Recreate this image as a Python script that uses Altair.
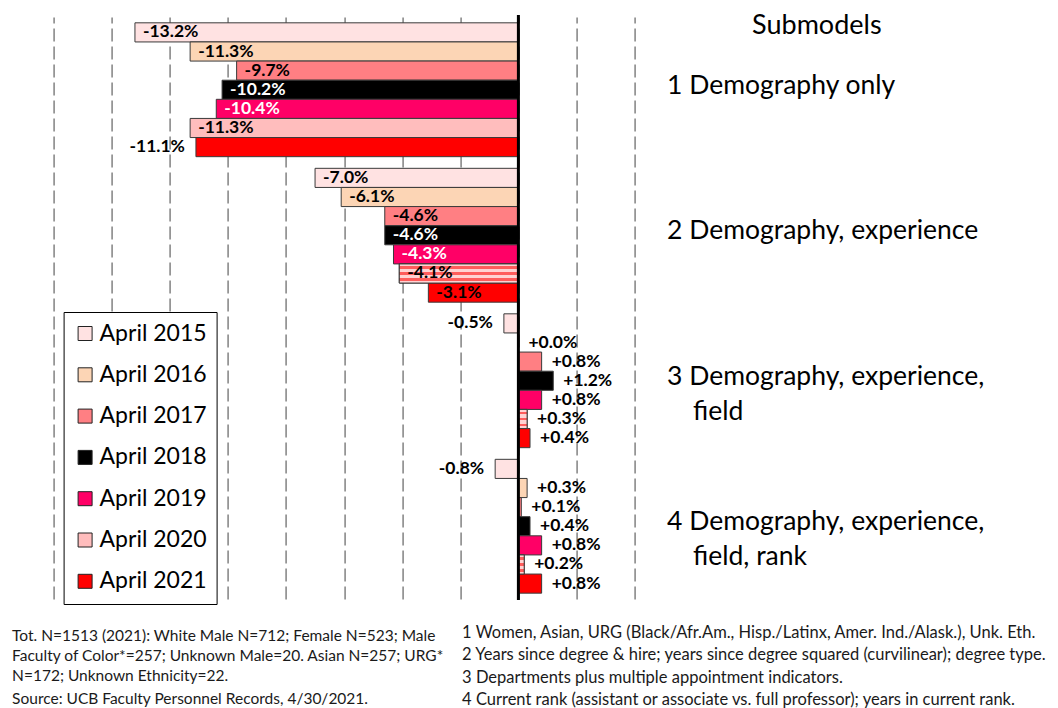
import altair as alt
import pandas as pd

# ---------------- data ----------------
groups = ["1", "2", "3", "4"]
years = ["April 2015", "April 2016", "April 2017", "April 2018",
         "April 2019", "April 2020", "April 2021"]
g1_values = [-13.2, -11.3, -9.7, -10.2, -10.4, -11.3, -11.1]
g2_values = [-7.0, -6.1, -4.6, -4.6, -4.3, -4.1, -3.1]
g3_values = [-0.5, 0.0, 0.8, 1.2, 0.8, 0.3, 0.4]
g4_values = [-0.8, 0.3, 0.1, 0.4, 0.8, 0.2, 0.8]
grid_ticks = [-16, -14, -12, -10, -8, -6, -4, -2, 0, 2, 4]

submodel_title = "Submodels"
submodel_line1 = ["1 Demography only", "2 Demography, experience",
                  "3 Demography, experience,", "4 Demography, experience,"]
submodel_line2 = ["", "", "field", "field, rank"]

note_left = ["Tot. N=1513 (2021): White Male N=712; Female N=523; Male",
             "Faculty of Color*=257; Unknown Male=20. Asian N=257; URG*",
             "N=172; Unknown Ethnicity=22."]
note_source = "Source: UCB Faculty Personnel Records, 4/30/2021."
note_right = ["1 Women, Asian, URG (Black/Afr.Am., Hisp./Latinx, Amer. Ind./Alask.), Unk. Eth.",
              "2 Years since degree & hire;  years since degree squared (curvilinear); degree type.",
              "3 Departments plus multiple appointment indicators.",
              "4 Current rank (assistant or associate vs. full professor); years in current rank."]

year_colors = ["#ffe2e2", "#fcd5b5", "#ff7f83", "#000000",
               "#ff0066", "#ffbdbd", "#ff0000"]

all_values = [g1_values, g2_values, g3_values, g4_values]
rows = []
for g, vals in zip(groups, all_values):
    for yr, v in zip(years, vals):
        rows.append({"group": g, "year": yr, "value": v, "label": f"{v:+.1f}%"})
df = pd.DataFrame(rows)

ann = pd.DataFrame({"group": groups, "line1": submodel_line1, "line2": submodel_line2})

FONT = "Lato"
W, H = 581, 582

stripes = alt.LinearGradient(
    gradient="linear", x1=0, x2=0, y1=0, y2=1,
    stops=[
        alt.GradientStop(color="#ffd2d2", offset=0),
        alt.GradientStop(color="#ffd2d2", offset=0.12),
        alt.GradientStop(color="#ff5c5c", offset=0.12),
        alt.GradientStop(color="#ff5c5c", offset=0.24),
        alt.GradientStop(color="#ffd2d2", offset=0.24),
        alt.GradientStop(color="#ffd2d2", offset=0.44),
        alt.GradientStop(color="#ff5c5c", offset=0.44),
        alt.GradientStop(color="#ff5c5c", offset=0.56),
        alt.GradientStop(color="#ffd2d2", offset=0.56),
        alt.GradientStop(color="#ffd2d2", offset=0.76),
        alt.GradientStop(color="#ff5c5c", offset=0.76),
        alt.GradientStop(color="#ff5c5c", offset=0.88),
        alt.GradientStop(color="#ffd2d2", offset=0.88),
        alt.GradientStop(color="#ffd2d2", offset=1),
    ],
)

y_enc = alt.Y("group:N", axis=None,
              scale=alt.Scale(domain=groups, paddingInner=0.08, paddingOuter=0.04))
yo_enc = alt.YOffset("year:N", sort=years,
                     scale=alt.Scale(domain=years, paddingInner=0, paddingOuter=0))
x_enc = alt.X("value:Q",
              scale=alt.Scale(domain=[-16, 4], nice=False, zero=False),
              axis=alt.Axis(values=grid_ticks, grid=True, gridDash=[13, 5],
                            gridColor="#8a8a8a", gridWidth=1.6, labels=False,
                            ticks=False, domain=False, title=None))

base = alt.Chart(df)

bars = base.mark_bar(stroke="#3a3a3a", strokeWidth=1).encode(
    x=x_enc, y=y_enc, yOffset=yo_enc,
    color=alt.Color("year:N", sort=years,
                    scale=alt.Scale(domain=years, range=year_colors),
                    legend=alt.Legend(orient="none", legendX=10, legendY=295,
                                      title=None, direction="vertical",
                                      labelFont=FONT, labelFontSize=23,
                                      labelColor="#000000", labelOffset=3,
                                      symbolType="square", symbolSize=196,
                                      symbolStrokeColor="#222222",
                                      symbolStrokeWidth=1, rowPadding=17.3,
                                      padding=10, strokeColor="#000000",
                                      fillColor="#ffffff", labelLimit=200)),
)

stripe_bars = base.transform_filter(
    "datum.year == 'April 2020' && datum.group != '1'"
).mark_bar(fill=stripes, stroke="#3a3a3a", strokeWidth=1).encode(
    x=x_enc, y=y_enc, yOffset=yo_enc,
)

zero_line = alt.Chart(pd.DataFrame({"v": [0]})).mark_rule(
    color="#000000", strokeWidth=3
).encode(x=alt.X("v:Q"), y=alt.value(-2), y2=alt.value(H + 1))

is_outside_left = "(datum.value < 0 && datum.value > -1) || (datum.group == '1' && datum.year == 'April 2021')"
is_inside = "datum.value <= -1 && !(datum.group == '1' && datum.year == 'April 2021')"

text_common = dict(font=FONT, fontSize=17.5, fontWeight="bold", baseline="middle")

labels_inside = base.transform_filter(is_inside).mark_text(
    align="left", dx=8, **text_common
).encode(
    x=alt.X("value:Q"), y=y_enc, yOffset=yo_enc, text="label:N",
    color=alt.condition(
        "(datum.year == 'April 2018' || datum.year == 'April 2019')",
        alt.value("#ffffff"), alt.value("#000000")),
)

labels_left = base.transform_filter(is_outside_left).mark_text(
    align="right", dx=-11, color="#000000", **text_common
).encode(x=alt.X("value:Q"), y=y_enc, yOffset=yo_enc, text="label:N")

labels_right = base.transform_filter("datum.value >= 0").mark_text(
    align="left", dx=10, color="#000000", **text_common
).encode(x=alt.X("value:Q"), y=y_enc, yOffset=yo_enc, text="label:N")

ANN_SIZE = 26.5

ann1 = alt.Chart(ann).mark_text(
    align="left", baseline="middle", font=FONT, fontSize=ANN_SIZE, color="#000000", dy=-4
).encode(x=alt.value(613.5), y=alt.Y("group:N"), text="line1:N")

ann2 = alt.Chart(ann).mark_text(
    align="left", baseline="middle", font=FONT, fontSize=ANN_SIZE, color="#000000", dy=31
).encode(x=alt.value(639.5), y=alt.Y("group:N"), text="line2:N")

title_txt = alt.Chart(alt.Data(values=[{}])).mark_text(
    text=submodel_title, align="left", baseline="middle", font=FONT,
    fontSize=27, color="#000000"
).encode(x=alt.value(698.5), y=alt.value(9))

foot_left = alt.Chart(alt.Data(values=[{}])).mark_text(
    text=note_left, align="left", baseline="middle", font=FONT, fontSize=15.5,
    color="#1a1a1a", lineHeight=20
).encode(x=alt.value(-41.5), y=alt.value(619))

foot_source = alt.Chart(alt.Data(values=[{}])).mark_text(
    text=note_source, align="left", baseline="middle", font=FONT, fontSize=15.5,
    color="#1a1a1a"
).encode(x=alt.value(-41.5), y=alt.value(682))

foot_right = alt.Chart(alt.Data(values=[{}])).mark_text(
    text=note_right, align="left", baseline="middle", font=FONT, fontSize=16.5,
    color="#1a1a1a", lineHeight=22.4
).encode(x=alt.value(408.5), y=alt.value(616))

chart = alt.layer(
    bars, stripe_bars, zero_line, labels_inside, labels_left, labels_right,
    ann1, ann2, title_txt, foot_left, foot_source, foot_right
).properties(
    width=W, height=H,
    autosize=alt.AutoSizeParams(type="none"),
    padding={"left": 45.6, "top": 9, "right": 414.4, "bottom": 109},
    background="#ffffff",
).configure_view(stroke=None)

chart.save("out.html", embed_options={"renderer": "svg", "actions": False})
